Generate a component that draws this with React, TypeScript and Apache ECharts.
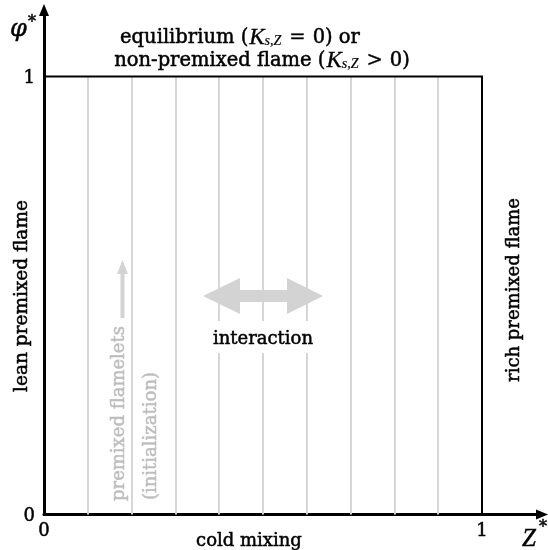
import React, { useEffect, useRef } from "react";
import * as echarts from "echarts";

// ---- data ----
const zLines: number[] = [0.1, 0.2, 0.3, 0.4, 0.5, 0.6, 0.7, 0.8, 0.9];
const boxPath: number[][] = [[0, 1], [1, 1], [1, 0]];
const xTicks: number[] = [0, 1];
const yTicks: number[] = [0, 1];
const xTickLabels: string[] = ["0", "1"];
const yTickLabels: string[] = ["0", "1"];

const SERIF = "'DejaVu Serif', serif";
const ITAL = "'Liberation Serif', serif";

const UNIT_X = 438;
const UNIT_Y = 438;
const X_MAX = 1.137;
const Y_MAX = 1.152;
const LEFT = 44;
const BOTTOM_PX = 514.5;

export default function App() {
  const ref = useRef<HTMLDivElement>(null);
  useEffect(() => {
    if (!ref.current) return;
    const chart = echarts.init(ref.current, undefined, { renderer: "svg" });
    const gridH = UNIT_Y * Y_MAX;
    const gridW = UNIT_X * X_MAX;
    const fmt = (ticks: number[], labels: string[]) => (v: number) => {
      const i = ticks.findIndex((t) => Math.abs(t - v) < 1e-6);
      return i >= 0 ? labels[i] : "";
    };
    const gray = "#bdbdbd";
    const arrowGray = "#d3d3d3";
    const bold = (fill: string) => ({ stroke: fill, lineWidth: 0.5 });
    const richStyles = {
      t: { fontFamily: SERIF, fontSize: 19.5, lineHeight: 18, verticalAlign: "middle", fill: "#000", stroke: "#000", lineWidth: 0.5 },
      r: { fontFamily: SERIF, fontSize: 19.5, lineHeight: 18, verticalAlign: "middle", padding: [0, 7], fill: "#000", stroke: "#000", lineWidth: 0.3 },
      k: { fontFamily: ITAL, fontStyle: "italic", fontSize: 23, lineHeight: 18, verticalAlign: "middle", padding: [0, 0, 0, 1], fill: "#000", stroke: "#000", lineWidth: 0.3 },
      s: { fontFamily: ITAL, fontStyle: "italic", fontSize: 14, lineHeight: 10, verticalAlign: "middle", padding: [8, 1, 0, 0], fill: "#000", stroke: "#000", lineWidth: 0.2 },
    };
    const option: any = {
      animation: false,
      grid: { left: LEFT, top: BOTTOM_PX - gridH, width: gridW, height: gridH },
      xAxis: {
        type: "value",
        min: 0,
        max: X_MAX,
        interval: 0.5,
        axisLine: {
          show: true,
          lineStyle: { color: "#000", width: 3 },
          symbol: ["none", "triangle"],
          symbolSize: [10, 12],
        },
        axisTick: { show: false },
        splitLine: { show: false },
        axisLabel: {
          customValues: xTicks,
          formatter: fmt(xTicks, xTickLabels),
          fontFamily: SERIF,
          fontSize: 18,
          color: "#000",
          textBorderColor: "#000",
          textBorderWidth: 0.5,
          margin: 6,
        },
      },
      yAxis: {
        type: "value",
        min: 0,
        max: Y_MAX,
        interval: 0.5,
        axisLine: {
          show: true,
          lineStyle: { color: "#000", width: 3 },
          symbol: ["none", "triangle"],
          symbolSize: [10, 12],
        },
        axisTick: { show: false },
        splitLine: { show: false },
        axisLabel: {
          customValues: yTicks,
          formatter: fmt(yTicks, yTickLabels),
          fontFamily: SERIF,
          fontSize: 18,
          color: "#000",
          textBorderColor: "#000",
          textBorderWidth: 0.5,
          margin: 9,
        },
      },
      series: [
        {
          type: "lines",
          coordinateSystem: "cartesian2d",
          z: 2,
          silent: true,
          lineStyle: { color: "#d6d6d6", width: 2, opacity: 1 },
          data: zLines.map((z) => ({ coords: [[z, 0], [z, 1]] })),
        },
        {
          type: "lines",
          coordinateSystem: "cartesian2d",
          polyline: true,
          z: 3,
          silent: true,
          lineStyle: { color: "#000", width: 2, opacity: 1 },
          data: [{ coords: boxPath }],
        },
      ],
      graphic: [
        // axis names
        { type: "text", z: 100, x: 18.5, y: 28, style: { text: "φ", font: `italic 24px ${SERIF}`, fill: "#000", align: "center", verticalAlign: "middle", ...bold("#000") } },
        { type: "text", z: 100, x: 32, y: 21, style: { text: "*", font: `16px ${SERIF}`, fill: "#000", align: "center", verticalAlign: "middle", ...bold("#000") } },
        { type: "text", z: 100, x: 529, y: 537, style: { text: "Z", font: `italic 25px ${ITAL}`, fill: "#000", align: "center", verticalAlign: "middle", ...bold("#000") } },
        { type: "text", z: 100, x: 543, y: 526, style: { text: "*", font: `16px ${SERIF}`, fill: "#000", align: "center", verticalAlign: "middle", ...bold("#000") } },
        // top annotation
        {
          type: "text", z: 100, x: 240, y: 36,
          style: {
            text: "{t|equilibrium (}{k|K}{s|s,Z}{r|=}{t|0) or}",
            align: "center", verticalAlign: "middle", fill: "#000",
            rich: richStyles,
          },
        },
        {
          type: "text", z: 100, x: 262, y: 59.5,
          style: {
            text: "{t|non-premixed flame (}{k|K}{s|s,Z}{r|>}{t|0)}",
            align: "center", verticalAlign: "middle", fill: "#000",
            rich: richStyles,
          },
        },
        // bottom label
        { type: "text", z: 100, x: 249, y: 539, style: { text: "cold mixing", font: `18px ${SERIF}`, fill: "#000", align: "center", verticalAlign: "middle", ...bold("#000") } },
        // side labels
        { type: "text", z: 100, x: 20, y: 296, rotation: Math.PI / 2, style: { text: "lean premixed flame", font: `18.5px ${SERIF}`, fill: "#000", align: "center", verticalAlign: "middle", ...bold("#000") } },
        { type: "text", z: 100, x: 512, y: 290, rotation: Math.PI / 2, style: { text: "rich premixed flame", font: `18px ${SERIF}`, fill: "#000", align: "center", verticalAlign: "middle", ...bold("#000") } },
        // gray initialization labels
        { type: "text", z: 100, x: 117, y: 413.5, rotation: Math.PI / 2, style: { text: "premixed flamelets", font: `18px ${SERIF}`, fill: gray, align: "center", verticalAlign: "middle", ...bold(gray) } },
        { type: "text", z: 100, x: 149, y: 436, rotation: Math.PI / 2, style: { text: "(initialization)", font: `18px ${SERIF}`, fill: gray, align: "center", verticalAlign: "middle", ...bold(gray) } },
        // up arrow
        { type: "rect", z: 100, shape: { x: 120.5, y: 273, width: 4, height: 45 }, style: { fill: arrowGray } },
        { type: "polygon", z: 100, shape: { points: [[122.5, 260], [117, 274], [128, 274]] }, style: { fill: arrowGray } },
        // double arrow
        {
          type: "polygon", z: 100,
          shape: {
            points: [[203, 296], [240, 278], [240, 290], [287, 290], [287, 278], [323, 296], [287, 314], [287, 302], [240, 302], [240, 314]],
          },
          style: { fill: arrowGray },
        },
        // interaction label
        {
          type: "text", z: 100, x: 263, y: 337,
          style: { text: "interaction", font: `18px ${SERIF}`, fill: "#000", align: "center", verticalAlign: "middle", backgroundColor: "#fff", padding: [7, 3], ...bold("#000") },
        },
      ],
    };
    chart.setOption(option);
    return () => chart.dispose();
  }, []);
  return <div ref={ref} style={{ position: "fixed", left: 0, top: 0, width: 548, height: 550 }} />;
}
